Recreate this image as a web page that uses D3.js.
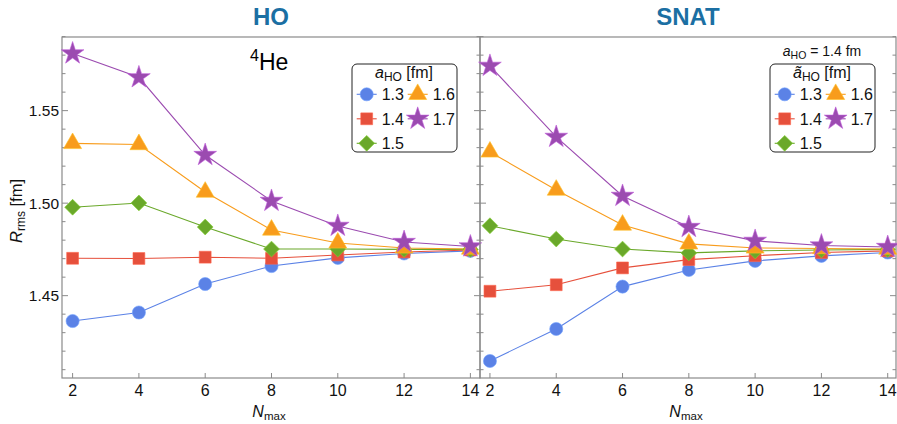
<!DOCTYPE html>
<html>
<head>
<meta charset="utf-8">
<script src="https://cdn.jsdelivr.net/npm/d3@7"></script>
<style>
  body { margin: 0; background: #fff; }
  svg { display: block; font-family: "Liberation Sans", Arial, sans-serif; }
</style>
</head>
<body>
<svg id="chart" width="897" height="424"></svg>
<script>
// data
const nmax = [2, 4, 6, 8, 10, 12, 14]
const aValues = ["1.3", "1.4", "1.5", "1.6", "1.7"]

const hoR13 = [1.4363, 1.4409, 1.4563, 1.4660, 1.4704, 1.4728, 1.4742]
const hoR14 = [1.4702, 1.4701, 1.4708, 1.4702, 1.4720, 1.4736, 1.4747]
const hoR15 = [1.4978, 1.5001, 1.4871, 1.4752, 1.4752, 1.4750, 1.4750]
const hoR16 = [1.5323, 1.5317, 1.5060, 1.4855, 1.4785, 1.4758, 1.4752]
const hoR17 = [1.5809, 1.5680, 1.5260, 1.5012, 1.4877, 1.4790, 1.4766]

const snR13 = [1.4147, 1.4320, 1.4549, 1.4639, 1.4688, 1.4715, 1.4733]
const snR14 = [1.4524, 1.4559, 1.4650, 1.4695, 1.4716, 1.4733, 1.4742]
const snR15 = [1.4878, 1.4806, 1.4752, 1.4731, 1.4742, 1.4747, 1.4750]
const snR16 = [1.5277, 1.5071, 1.4882, 1.4780, 1.4758, 1.4755, 1.4752]
const snR17 = [1.5742, 1.5358, 1.5039, 1.4871, 1.4796, 1.4771, 1.4763]

const yTicks = [1.45, 1.50, 1.55]
const xTicks = [2, 4, 6, 8, 10, 12, 14]

const colors = ["#5b82e6", "#e6503c", "#6aa82a", "#f89c1c", "#9b4bb0"]
const symbols = [
    { type: d3.symbolCircle, size: 135, rot: 0 },
    { type: d3.symbolSquare, size: 140, rot: 0 },
    { type: d3.symbolSquare, size: 125, rot: 45 },
    { type: d3.symbolTriangle, size: 140, rot: 0 },
    { type: d3.symbolStar, size: 160, rot: 0 }
]

const svg = d3.select("#chart")
const plotTop = 37, plotBottom = 378

const y = d3.scaleLinear().domain([1.4055, 1.5898]).range([plotBottom, plotTop])

const panels = [
    { title: "HO", left: 62, right: 480, series: [hoR13, hoR14, hoR15, hoR16, hoR17], labels: true },
    { title: "SNAT", left: 480, right: 896, series: [snR13, snR14, snR15, snR16, snR17], labels: false }
]

const frameColor = "#8a8a8a"
const minorTicks = d3.range(1.41, 1.59, 0.01).map(v => +v.toFixed(2))

panels.forEach((p, pi) => {
    const x = d3.scaleLinear()
        .domain(pi === 0 ? [1.68, 14.29] : [1.7, 14.25])
        .range([p.left, p.right])
    const g = svg.append("g")

    // frame
    g.append("rect")
        .attr("x", p.left).attr("y", plotTop)
        .attr("width", p.right - p.left).attr("height", plotBottom - plotTop)
        .attr("fill", "none").attr("stroke", frameColor).attr("stroke-width", 1.2)

    // y ticks, inward on left, and on right edge
    minorTicks.forEach(v => {
        const major = yTicks.some(t => Math.abs(t - v) < 1e-6)
        const len = major ? 6 : 3.5
        g.append("line")
            .attr("x1", p.left).attr("x2", p.left + len)
            .attr("y1", y(v)).attr("y2", y(v))
            .attr("stroke", frameColor)
        g.append("line")
            .attr("x1", p.right).attr("x2", p.right - len)
            .attr("y1", y(v)).attr("y2", y(v))
            .attr("stroke", frameColor)
    })
    if (p.labels) {
        g.selectAll(".ylab").data(yTicks).enter().append("text")
            .attr("x", p.left - 3).attr("y", d => y(d) + 5.5)
            .attr("text-anchor", "end").attr("font-size", 15.5).attr("fill", "#111")
            .text(d => d.toFixed(2))
    }

    // x ticks
    xTicks.forEach(v => {
        g.append("line")
            .attr("x1", x(v)).attr("x2", x(v))
            .attr("y1", plotBottom).attr("y2", plotBottom - 5)
            .attr("stroke", frameColor)
    })
    g.selectAll(".xlab").data(xTicks).enter().append("text")
        .attr("x", d => x(d)).attr("y", 396)
        .attr("text-anchor", "middle").attr("font-size", 16).attr("fill", "#111")
        .text(d => d)

    // x title
    const xt = g.append("text")
        .attr("x", (p.left + p.right) / 2 - 2).attr("y", 417)
        .attr("text-anchor", "middle").attr("font-size", 16).attr("fill", "#111")
    xt.append("tspan").attr("font-style", "italic").text("N")
    xt.append("tspan").attr("font-size", 11.5).attr("dy", 3).text("max")

    // panel title
    g.append("text")
        .attr("x", (p.left + p.right) / 2).attr("y", 25)
        .attr("text-anchor", "middle").attr("font-size", 24).attr("font-weight", "bold")
        .attr("fill", "#1b6fa3")
        .text(p.title)

    // series
    const line = d3.line().x((d, i) => x(nmax[i])).y(d => y(d))
    p.series.forEach((s, si) => {
        g.append("path")
            .attr("d", line(s))
            .attr("fill", "none").attr("stroke", colors[si]).attr("stroke-width", 1.1)
    })
    p.series.forEach((s, si) => {
        const sym = symbols[si]
        g.selectAll(null).data(s).enter().append("path")
            .attr("d", d3.symbol().type(sym.type).size(sym.size))
            .attr("transform", (d, i) => `translate(${x(nmax[i])},${y(d)}) rotate(${sym.rot})`)
            .attr("fill", colors[si])
            .attr("stroke", d3.color(colors[si]).brighter(0.6))
            .attr("stroke-width", 0.6)
    })
})

// y axis title
const yt = svg.append("text")
    .attr("transform", "translate(22,211) rotate(-90)")
    .attr("text-anchor", "middle").attr("font-size", 16.5).attr("fill", "#111")
yt.append("tspan").attr("font-style", "italic").text("R")
yt.append("tspan").attr("font-size", 12).attr("dy", 3).text("rms")
yt.append("tspan").attr("dy", -3).text(" [fm]")

// 4He label
const he = svg.append("text").attr("x", 250).attr("y", 70).attr("font-size", 23).attr("fill", "#000")
he.append("tspan").attr("font-size", 16).attr("dy", -9).text("4")
he.append("tspan").attr("dy", 9).text("He")

// right panel note
const note = svg.append("text").attr("x", 822).attr("y", 56)
    .attr("text-anchor", "middle").attr("font-size", 14).attr("fill", "#111")
note.append("tspan").attr("font-style", "italic").text("a")
note.append("tspan").attr("font-size", 10.5).attr("dy", 3).text("HO")
note.append("tspan").attr("dy", -3).text(" = 1.4 fm")

// legends
function drawLegend(bx, titleChar) {
    const lg = svg.append("g").attr("transform", `translate(${bx},64)`)
    lg.append("rect")
        .attr("width", 105).attr("height", 88).attr("rx", 5)
        .attr("fill", "#fff").attr("stroke", "#222").attr("stroke-width", 1)
    const t = lg.append("text").attr("x", 52).attr("y", 14)
        .attr("text-anchor", "middle").attr("font-size", 16).attr("fill", "#111")
    t.append("tspan").attr("font-style", "italic").text(titleChar)
    t.append("tspan").attr("font-size", 12).attr("dy", 3).text("HO")
    t.append("tspan").attr("dy", -3).text(" [fm]")

    const pos = [[0, 0], [0, 1], [0, 2], [1, 0], [1, 1]]
    aValues.forEach((a, i) => {
        const cx = 14.7 + pos[i][0] * 51
        const cy = 30.3 + pos[i][1] * 24.5
        const item = lg.append("g")
        item.append("line")
            .attr("x1", cx - 10).attr("x2", cx + 10).attr("y1", cy).attr("y2", cy)
            .attr("stroke", colors[i]).attr("stroke-width", 1.1)
        item.append("path")
            .attr("d", d3.symbol().type(symbols[i].type).size(symbols[i].size))
            .attr("transform", `translate(${cx},${cy}) rotate(${symbols[i].rot})`)
            .attr("fill", colors[i])
            .attr("stroke", d3.color(colors[i]).brighter(0.6)).attr("stroke-width", 0.6)
        item.append("text")
            .attr("x", cx + 15).attr("y", cy + 6)
            .attr("font-size", 16).attr("fill", "#111")
            .text(a)
    })
}
drawLegend(352, "a")
drawLegend(770, "ã")
</script>
</body>
</html>
